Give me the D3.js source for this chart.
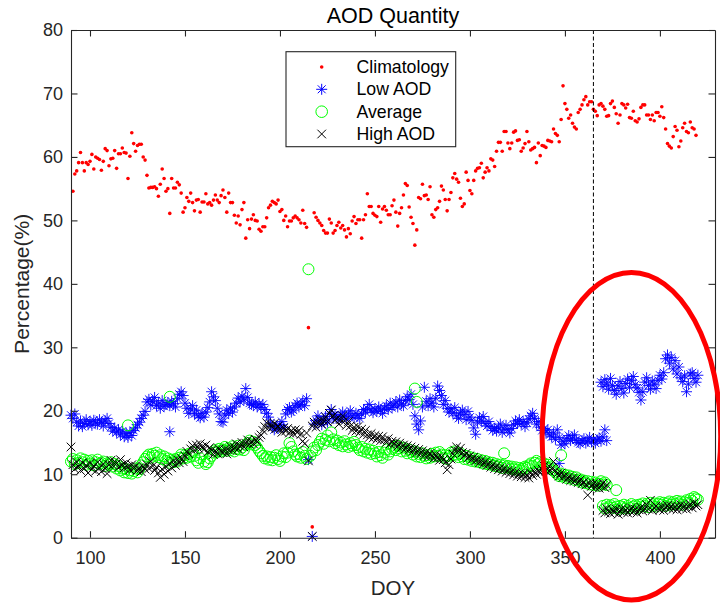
<!DOCTYPE html>
<html><head><meta charset="utf-8">
<script src="https://cdn.jsdelivr.net/npm/d3@7"></script>
<style>
html,body{margin:0;padding:0;background:#fff;}
svg{display:block;font-family:"Liberation Sans",Arial,Helvetica,sans-serif;}
</style></head>
<body>
<svg id="chart" width="720" height="605"></svg>
<script>
// ---------------- DATA ----------------
const titleText = "AOD Quantity";
const xLabel = "DOY";
const yLabel = "Percentage(%)";
const seriesNames = ["Climatology", "Low AOD", "Average", "High AOD"];
const xTicks = [100, 150, 200, 250, 300, 350, 400];
const yTicks = [0, 10, 20, 30, 40, 50, 60, 70, 80];
const xDomain = [90, 429];
const yDomain = [0, 80];
const yearBoundary = 365;
const annotCenter = [385, 16];   // DOY, %
const annotRadii = [47, 25.8];   // DOY, %

// Climatology: consecutive days starting at climStart (null = no value)
const climStart = 91;
const climValues = [
54.6,57.3,57.8,59.1,60.7,59.1,57.8,59.1,58.8,59.3,
60.4,58.1,60.0,59.8,59.6,57.9,59.3,61.3,61.0,58.6,
59.7,59.8,61.0,58.2,60.5,60.5,61.4,60.7,60.6,56.6,
60.1,63.8,62.1,60.9,61.8,62.0,62.0,60.0,59.5,57.1,
55.1,55.2,55.2,55.3,55.0,53.8,55.7,58.1,56.6,54.6,
55.0,51.1,56.6,55.1,55.1,56.0,55.6,54.3,51.3,52.0,
53.6,53.0,54.3,52.8,51.5,53.2,53.3,51.3,52.9,52.9,
54.2,52.6,52.8,52.4,53.2,54.0,53.2,52.8,53.9,54.8,
53.6,51.3,54.3,52.8,52.8,50.8,49.6,50.7,49.3,51.7,
52.8,47.2,50.1,48.7,50.2,50.9,50.0,49.9,48.6,48.3,
49.0,49.0,50.4,52.0,52.4,53.0,52.8,52.6,53.2,51.4,
51.7,50.0,50.7,49.0,49.9,49.9,50.4,50.7,
50.4,50.1,49.6,51.6,49.5,48.9,null,null,null,
51.2,50.5,50.0,49.6,49.2,48.4,48.0,48.0,50.2,49.6,
48.0,48.4,49.2,49.7,48.8,49.2,48.5,47.4,48.7,47.9,
49.9,50.6,49.5,50.1,50.1,47.2,50.1,50.9,54.2,52.2,
52.2,51.1,50.8,50.6,52.2,49.7,51.8,52.2,51.6,50.9,
50.9,52.3,53.2,51.3,49.1,51.1,52.0,54.0,55.8,55.5,
52.1,50.5,49.5,46.1,48.5,53.6,53.4,55.7,53.9,54.0,
53.3,55.3,50.9,50.5,51.7,52.0,53.0,55.4,54.8,53.3,
51.5,53.3,54.4,56.7,57.4,56.5,56.0,53.5,52.2,52.6,
57.6,56.3,54.7,54.2,56.3,57.8,58.2,58.3,59.0,56.7,
57.6,58.3,57.8,59.7,59.5,58.5,60.9,62.3,62.3,60.9,
64.0,64.0,62.2,61.3,62.2,63.9,64.1,62.6,62.7,
60.9,61.4,62.1,64.0,62.4,61.1,61.3,61.5,59.1,62.2,
60.2,61.8,61.7,61.5,62.6,62.5,62.4,64.4,63.7,63.4,
62.4,65.9,71.2,68.4,67.5,66.1,66.6,65.3,64.7,64.4,
67.0,67.5,68.2,69.0,69.5,68.2,68.7,68.7,67.5,67.2,
66.5,68.2,68.4,68.0,67.5,66.4,66.5,68.4,68.8,67.8,
66.8,65.3,66.6,68.4,68.2,67.7,68.3,66.2,66.1,67.2,
65.7,65.5,66.0,67.8,68.2,68.2,66.6,66.6,65.9,66.6,
65.7,67.0,67.0,66.4,67.9,66.2,64.4,62.1,61.7,61.4,
63.2,64.8,64.2,61.6,62.5,64.6,65.3,64.0,63.8,65.5,
64.6,64.4,63.4
];
const climExtraDays = [215, 217];
const climExtraValues = [33.1, 1.7];

// Low AOD
const lowStartA = 90;
const lowValuesA = [
19.3,18.8,19.5,18.2,17.6,18.4,17.5,18.0,18.6,17.8,
18.3,17.7,18.5,18.1,17.9,18.6,18.2,17.6,18.4,18.8,
18.0,17.4,16.8,17.3,16.6,17.0,16.2,16.8,15.9,16.4,
15.8,16.6,16.1,16.9,17.3,17.8,18.2,18.8,19.3,19.9,
21.4,21.8,20.9,21.5,22.1,20.8,21.2,20.4,21.6,20.7,
21.0,21.3,20.8,21.5,21.1,20.6,21.9,22.6,23.0,22.4,
21.2,20.4,19.6,20.3,20.8,19.5,20.1,19.2,18.9,19.6,
19.0,19.8,20.5,21.4,23.0,22.2,21.6,20.4,19.5,18.3,
18.2,19.3,20.1,19.6,20.4,19.8,20.6,21.2,22.0,21.4,
22.3,21.7,23.5,22.1,21.2,21.0,20.8,21.4,20.6,21.1,
20.5,21.0,20.2,19.6,19.0,18.1,17.5,17.0,17.6,17.2,
17.8,18.3,17.4,19.5,20.2,20.5,19.8,20.1,20.8,21.2,
20.6,21.0,21.5,20.8,21.9,null,null,null,17.9,18.5,
19.2,18.4,17.8,18.6,19.1,18.2,19.6,20.2,18.8,19.4,
19.0,18.6,19.3,19.8,19.1,18.7,19.5,20.0,19.2,18.9,
19.6,19.3,18.8,19.5,20.2,19.8,20.4,21.0,20.1,19.7,
20.3,19.9,20.6,20.1,19.6,20.4,20.8,20.2,21.2,20.5,
20.9,21.4,20.6,21.7,21.1,20.8,21.6,22.2,21.8,22.6,
21.0,19.2,17.9,17.0,18.4,20.6,23.7,21.5,20.8,21.9,
21.2,20.6,22.0,23.9,23.2,22.4,21.0,21.6,20.4,19.8,
20.3,19.6,20.5,19.2,18.8,19.7,20.1,19.4,18.6,19.9,
19.0,18.5,17.3,16.3,18.2,18.9,18.4,19.1,18.0,17.6,
18.3,17.5,16.9,17.2,16.8,17.4,17.9,16.6,17.1,17.7,
17.0,16.5,17.2,17.8,18.4,18.0,18.6,17.9,18.3,17.5,
18.1,18.7,19.2,19.6,18.8,17.9,18.3,17.4,16.9,17.2,
16.6,17.0,16.2,15.9,16.5,15.5,17.0,15.8,14.6,15.2,
14.8,15.6,16.1,15.3,15.7,16.2,15.4,15.0,14.8,15.3,
15.6,14.9,15.2,15.8,15.1,15.5,14.9,15.4,15.7,15.2,
15.9,17.0,15.3
];
const lowStartB = 369;
const lowValuesB = [
24.5,23.8,24.9,24.2,23.4,25.1,24.0,23.2,22.6,23.9,
24.6,23.5,22.8,24.3,25.0,23.7,24.8,25.4,24.1,23.6,
22.9,21.7,23.0,24.5,25.2,24.0,23.4,24.7,24.2,23.5,
24.8,25.6,25.0,26.0,28.2,28.8,27.5,28.4,26.6,27.9,
25.8,26.9,25.2,24.6,25.5,23.0,24.2,25.8,26.0,25.1,
24.5,25.6
];
const lowExtraDays = [142, 215, 217, 347];
const lowExtraValues = [16.7, 12.3, 0.2, 11.7];

// Average
const avgStartA = 90;
const avgValuesA = [
12.0,12.4,11.6,12.2,11.8,12.5,11.9,12.3,11.5,12.1,
11.7,12.2,11.4,11.9,12.3,11.6,11.8,12.0,11.3,11.7,
11.5,11.9,11.2,11.6,10.9,11.3,10.6,10.9,10.3,10.8,
10.2,10.6,10.1,10.5,10.9,10.3,10.8,11.4,11.9,12.4,
12.8,13.1,12.6,13.2,12.9,13.4,12.7,13.0,12.4,12.8,
12.1,12.5,11.8,12.3,11.9,12.4,12.0,12.6,13.1,12.5,
13.0,12.6,13.2,12.8,13.5,12.9,12.2,11.8,12.5,13.1,
12.0,11.6,11.9,12.5,12.9,13.4,13.8,13.5,14.0,13.6,
13.9,14.3,13.7,14.1,13.8,14.4,13.6,14.0,14.5,13.9,
14.2,13.8,14.6,14.9,15.3,14.7,15.1,14.6,14.2,13.7,
13.3,12.9,12.5,12.8,12.3,12.7,12.2,12.6,13.0,12.4,
12.1,12.8,13.3,12.7,13.4,14.9,14.3,13.6,13.1,12.8,
13.2,12.6,13.5,12.9,12.4,null,12.9,13.6,14.2,13.8,
14.6,15.1,15.6,14.8,15.4,16.1,15.2,16.6,15.5,14.9,
15.3,14.6,15.0,14.4,15.2,14.7,14.3,14.9,14.5,15.1,
14.6,14.2,13.8,14.3,13.6,14.0,13.4,13.9,13.2,13.7,
13.3,12.8,13.5,13.0,12.6,13.4,13.9,13.1,13.6,14.0,
14.3,13.8,14.5,14.1,13.6,14.2,13.7,13.3,13.9,13.5,
13.1,13.6,12.8,13.2,12.7,13.3,12.9,12.5,13.0,12.6,
13.2,12.8,13.4,12.9,13.5,13.1,12.6,13.0,12.4,12.9,
13.4,13.0,13.6,13.1,12.7,13.3,12.8,12.4,12.9,12.3,
12.7,12.1,12.5,12.0,12.4,11.9,12.2,11.7,12.1,11.6,
11.9,11.5,11.8,11.3,11.6,11.2,11.5,11.0,11.4,11.1,
11.3,10.9,11.2,10.8,11.1,10.7,11.0,10.6,10.9,11.2,
11.0,11.4,11.7,11.3,11.8,12.1,11.6,11.9,11.4,11.7,
11.2,11.5,10.9,11.1,10.6,10.3,10.0,9.7,10.1,9.6,
9.9,9.4,9.8,9.3,9.6,9.1,9.5,9.0,9.2,8.7,
9.0,8.6,8.9,8.4,8.8,8.3,8.7,8.2,8.5,8.9,
8.4,8.7,8.3
];
const avgStartB = 370;
const avgValuesB = [
5.0,4.6,5.2,4.8,5.1,4.7,5.3,4.9,4.5,5.0,
4.8,5.2,4.6,5.0,4.7,5.3,4.9,5.1,4.6,5.2,
4.9,5.4,5.0,5.3,4.8,5.5,5.1,5.4,4.9,5.3,
5.6,5.2,5.5,5.0,5.4,5.7,5.2,5.6,5.3,5.8,
5.4,5.7,5.2,5.6,5.9,5.5,6.1,5.8,6.4,6.2,
6.0
];
const avgExtraDays = [120, 142, 215, 271, 272, 318, 348, 377];
const avgExtraValues = [17.7, 22.2, 42.3, 23.5, 21.4, 13.3, 13.0, 7.5];

// High AOD
const highStartA = 90;
const highValuesA = [
14.3,11.5,10.8,11.9,11.2,10.6,11.8,10.9,11.4,10.2,
11.7,10.8,11.3,10.5,11.9,11.0,10.4,11.6,10.9,10.1,
11.5,12.2,11.4,12.0,11.7,11.1,12.3,11.5,11.0,11.8,
11.2,10.7,11.5,10.9,11.3,10.6,11.0,10.4,11.2,10.8,
11.5,10.9,12.0,11.3,10.6,11.1,10.2,9.5,10.8,10.0,
11.2,10.5,11.7,11.0,12.1,11.4,12.3,11.8,12.5,12.0,
12.9,13.6,13.2,14.0,14.5,13.8,14.6,14.1,14.8,14.3,
13.9,14.6,13.5,14.2,13.8,13.1,13.7,13.3,14.0,13.6,
13.4,13.9,13.2,13.8,14.4,13.7,14.2,14.8,14.0,14.5,
15.0,14.3,14.9,15.4,14.7,15.2,14.8,15.5,15.1,15.8,
16.2,16.9,17.5,18.1,17.3,17.9,17.4,18.0,17.2,17.6,
17.1,16.6,17.3,16.8,17.2,16.5,16.9,16.4,17.0,16.6,
16.9,16.3,15.2,14.8,16.5,12.1,null,17.6,18.2,17.4,
18.1,18.6,17.9,18.4,19.0,18.3,19.6,20.1,19.2,18.5,
18.8,17.9,18.6,19.2,18.4,17.7,18.3,17.6,16.9,17.4,
16.8,17.5,16.6,17.1,16.3,16.9,16.2,15.8,16.4,15.7,
16.1,15.5,16.0,15.3,15.9,15.4,15.0,15.6,14.8,15.2,
14.7,15.1,14.4,14.9,14.2,14.6,14.0,14.5,13.8,14.3,
13.6,14.1,13.4,13.9,13.2,13.7,13.0,13.5,12.8,13.3,
12.9,12.5,13.1,12.6,12.2,12.8,12.3,11.8,10.7,11.5,
12.4,13.2,13.8,14.3,13.6,14.1,13.4,12.9,13.3,12.6,
12.9,12.3,12.7,12.1,12.4,11.8,12.2,11.6,12.0,11.4,
11.7,11.1,11.5,10.9,11.3,10.7,11.0,10.5,10.9,10.3,
10.6,10.1,10.5,9.9,10.3,9.7,10.1,9.6,10.0,9.5,
9.9,9.4,10.2,9.8,10.4,10.0,10.6,10.2,10.8,11.3,
10.5,11.0,10.4,10.9,12.0,10.6,10.1,9.7,10.2,9.5,
9.8,9.2,9.6,9.0,9.4,8.9,9.3,8.7,9.1,8.5,
8.8,8.3,6.7,8.6,8.1,8.5,7.9,8.4,7.8,8.2,
8.6,7.9,8.3
];
const highStartB = 370;
const highValuesB = [
4.3,3.9,4.6,4.1,3.8,4.4,4.0,4.5,3.7,4.2,
4.6,4.0,4.4,3.9,4.3,4.7,4.1,4.5,3.9,4.4,
4.8,4.2,4.6,5.2,4.5,5.9,4.3,4.7,5.0,4.6,
4.4,4.9,4.3,4.8,5.1,4.6,5.0,4.5,4.9,4.4,
4.8,5.2,4.6,5.0,4.5,4.9,5.3,4.7,5.5,5.0,
5.2
];
const highExtraDays = [217];
const highExtraValues = [0.2];

// ---------------- BUILD ----------------
function seg(start, vals) {
  return vals.map((v, i) => ({ d: start + i, v })).filter(p => p.v !== null);
}
function extra(days, vals) { return days.map((d, i) => ({ d, v: vals[i] })); }

const climPts = seg(climStart, climValues).concat(extra(climExtraDays, climExtraValues));
const lowPts = seg(lowStartA, lowValuesA).concat(seg(lowStartB, lowValuesB), extra(lowExtraDays, lowExtraValues));
const avgPts = seg(avgStartA, avgValuesA).concat(seg(avgStartB, avgValuesB), extra(avgExtraDays, avgExtraValues));
const highPts = seg(highStartA, highValuesA).concat(seg(highStartB, highValuesB), extra(highExtraDays, highExtraValues));

const svg = d3.select("#chart");
const W = 720, H = 605;
const m = { left: 71, right: 5, top: 30, bottom: 67.3 };
const x = d3.scaleLinear().domain(xDomain).range([m.left, W - m.right]);
const y = d3.scaleLinear().domain(yDomain).range([H - m.bottom, m.top]);
const axisColor = "#262626";
const tickLen = 6.5;

svg.append("rect").attr("width", W).attr("height", H).attr("fill", "#fff");

svg.append("clipPath").attr("id", "plotclip").append("rect")
  .attr("x", x.range()[0] - 6).attr("y", y.range()[1] - 6)
  .attr("width", x.range()[1] - x.range()[0] + 12).attr("height", y.range()[0] - y.range()[1] + 12);

const plot = svg.append("g").attr("clip-path", "url(#plotclip)");

function asteriskPath(r) {
  const d = r * 0.72;
  return `M${-r},0H${r}M0,${-r}V${r}M${-d},${-d}L${d},${d}M${-d},${d}L${d},${-d}`;
}
function crossPath(r) {
  return `M${-r},${-r}L${r},${r}M${-r},${r}L${r},${-r}`;
}

plot.append("g").selectAll("circle").data(climPts).join("circle")
  .attr("cx", p => x(p.d)).attr("cy", p => y(p.v)).attr("r", 1.8)
  .attr("fill", "#ff0000");

plot.append("g").selectAll("path").data(lowPts).join("path")
  .attr("transform", p => `translate(${x(p.d)},${y(p.v)})`)
  .attr("d", asteriskPath(5.5))
  .attr("fill", "none").attr("stroke", "#0000ff").attr("stroke-width", 1).attr("stroke-opacity", 0.9);

plot.append("g").selectAll("circle").data(avgPts).join("circle")
  .attr("cx", p => x(p.d)).attr("cy", p => y(p.v)).attr("r", 5.5)
  .attr("fill", "none").attr("stroke", "#00ff00").attr("stroke-width", 1);

plot.append("g").selectAll("path").data(highPts).join("path")
  .attr("transform", p => `translate(${x(p.d)},${y(p.v)})`)
  .attr("d", crossPath(4.3))
  .attr("fill", "none").attr("stroke", "#000").attr("stroke-width", 1);

svg.append("line")
  .attr("x1", x(yearBoundary)).attr("x2", x(yearBoundary))
  .attr("y1", y(yDomain[1])).attr("y2", y(yDomain[0]))
  .attr("stroke", "#000").attr("stroke-width", 1).attr("stroke-dasharray", "4,2.5");

const fontTick = 18;
const gx = svg.append("g").attr("transform", `translate(0,${y(0)})`)
  .call(d3.axisBottom(x).tickValues(xTicks).tickSizeInner(-tickLen).tickSizeOuter(0).tickPadding(14));
const gxTop = svg.append("g").attr("transform", `translate(0,${y(80)})`)
  .call(d3.axisTop(x).tickValues(xTicks).tickSizeInner(-tickLen).tickSizeOuter(0).tickFormat(""));
const gy = svg.append("g").attr("transform", `translate(${x(xDomain[0])},0)`)
  .call(d3.axisLeft(y).tickValues(yTicks).tickSizeInner(-tickLen).tickSizeOuter(0).tickPadding(8));
const gyRight = svg.append("g").attr("transform", `translate(${x(xDomain[1])},0)`)
  .call(d3.axisRight(y).tickValues(yTicks).tickSizeInner(-tickLen).tickSizeOuter(0).tickFormat(""));

[gx, gxTop, gy, gyRight].forEach(g => {
  g.select(".domain").attr("stroke", axisColor).attr("stroke-width", 1.1);
  g.selectAll(".tick line").attr("stroke", axisColor).attr("stroke-width", 1.1);
  g.selectAll("text").attr("fill", axisColor).attr("font-size", fontTick)
    .attr("font-family", "'Liberation Sans',Arial,sans-serif");
});

svg.append("text").attr("x", (x.range()[0] + x.range()[1]) / 2).attr("y", 23.3)
  .attr("text-anchor", "middle").attr("font-size", 21.5).attr("fill", "#000").text(titleText);
svg.append("text").attr("x", (x.range()[0] + x.range()[1]) / 2).attr("y", 595)
  .attr("text-anchor", "middle").attr("font-size", 20.5).attr("fill", axisColor).text(xLabel);
svg.append("text")
  .attr("transform", `translate(29,${(y.range()[0] + y.range()[1]) / 2}) rotate(-90)`)
  .attr("text-anchor", "middle").attr("font-size", 21).attr("fill", axisColor).text(yLabel);

const lg = svg.append("g");
const lgX = 286, lgY = 51.7, lgW = 169.7, lgH = 95;
lg.append("rect").attr("x", lgX).attr("y", lgY).attr("width", lgW).attr("height", lgH)
  .attr("fill", "#fff").attr("stroke", axisColor).attr("stroke-width", 1.1);
const rowY = [67, 89.3, 111.7, 134];
const mx = 321.7, tx = 356.5;
seriesNames.forEach((name, i) => {
  lg.append("text").attr("x", tx).attr("y", rowY[i]).attr("dy", "0.35em")
    .attr("font-size", 17.7).attr("fill", "#000").text(name);
});
lg.append("circle").attr("cx", mx).attr("cy", rowY[0]).attr("r", 1.8).attr("fill", "#ff0000");
lg.append("path").attr("transform", `translate(${mx},${rowY[1]})`).attr("d", asteriskPath(5.5))
  .attr("fill", "none").attr("stroke", "#0000ff").attr("stroke-width", 1);
lg.append("circle").attr("cx", mx).attr("cy", rowY[2]).attr("r", 5.8)
  .attr("fill", "none").attr("stroke", "#00ff00").attr("stroke-width", 1);
lg.append("path").attr("transform", `translate(${mx},${rowY[3]})`).attr("d", crossPath(4.3))
  .attr("fill", "none").attr("stroke", "#000").attr("stroke-width", 1);

svg.append("ellipse")
  .attr("cx", x(annotCenter[0])).attr("cy", y(annotCenter[1]))
  .attr("rx", x(annotCenter[0] + annotRadii[0]) - x(annotCenter[0]))
  .attr("ry", y(annotCenter[1]) - y(annotCenter[1] + annotRadii[1]))
  .attr("fill", "none").attr("stroke", "#ff0000").attr("stroke-width", 5);
</script>
</body></html>
